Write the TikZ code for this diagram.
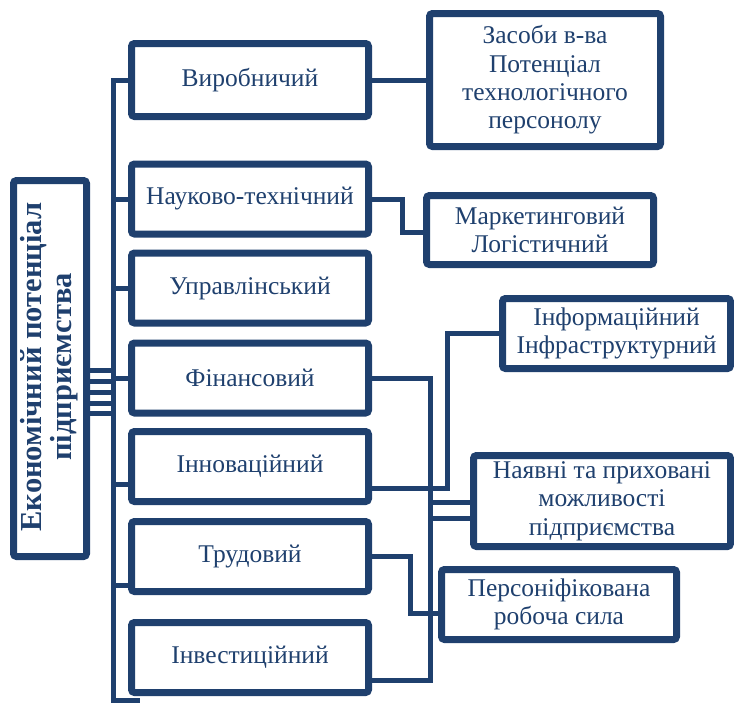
\documentclass[tikz,border=0pt]{standalone}
\usepackage{fontspec}
\setmainfont{Liberation Serif}
\usetikzlibrary{shadows}
\definecolor{navy}{RGB}{31,64,110}
\begin{document}
\begin{tikzpicture}[x=1pt,y=-1pt,
  box/.style={draw=navy, line width=7pt, rounded corners=3pt, fill=white, text=navy,
    font=\fontsize{25.5}{28.3}\selectfont, align=center, inner sep=0pt,
    drop shadow={opacity=0.25, shadow xshift=2pt, shadow yshift=-3pt}},
  mid/.style={box, minimum width=237pt, minimum height=70pt},
  link/.style={draw=navy, line width=5pt}]
\useasboundingbox (0,0) rectangle (734,702);
% main box
\node[box, minimum width=73pt, minimum height=376pt] (main) at (50,368.5) {};
\node[text=navy, font=\bfseries\fontsize{30.5}{30}\selectfont, rotate=90, align=center] (maintext) at (49,367) {Економічний потенціал\\підприємства};
% middle column
\node[box, minimum width=237pt, minimum height=73pt] (vir) at (250,80) {Виробничий};
\node[mid] (nt) at (250,199) {Науково-технічний};
\node[mid] (up) at (250,288) {Управлінський};
\node[mid] (fin) at (250,378) {Фінансовий};
\node[mid] (inn) at (250,466.5) {Інноваційний};
\node[mid] (trud) at (250,556.5) {Трудовий};
\node[mid] (inv) at (250,657.5) {Інвестиційний};
% right column
\node[box, minimum width=231pt, minimum height=133pt] (zas) at (545,80) {Засоби в-ва\\Потенціал\\технологічного\\персонолу};
\node[box, minimum width=227pt, minimum height=69pt] (mk) at (540,230) {Маркетинговий\\Логістичний};
\node[box, minimum width=228pt, minimum height=70pt] (inf) at (616.5,333.5) {Інформаційний\\Інфраструктурний};
\node[box, minimum width=257pt, minimum height=91pt] (nav) at (602,501) {Наявні та приховані\\можливості\\підприємства};
\node[box, minimum width=235pt, minimum height=70pt] (pers) at (559,604.5) {Персоніфікована\\робоча сила};
% bus coordinates
\coordinate (bt) at (113,80);
\coordinate (bb) at (113,700);
\coordinate (be) at (140,700);
\coordinate (m1) at (113,370);
\coordinate (m2) at (113,381);
\coordinate (m3) at (113,392);
\coordinate (m4) at (113,403);
\coordinate (m5) at (113,413);
\coordinate (bn) at (113,199);
\coordinate (bu) at (113,288);
\coordinate (bf) at (113,378);
\coordinate (bi) at (113,484);
\coordinate (btr) at (113,585);
% left bus
\draw[link] (vir.west) -- (bt) -- (bb) -- (be);
\foreach \c in {m1,m2,m3,m4,m5} \draw[link] (main.east |- \c) -- (\c);
\draw[link] (bn) -- (nt.west |- bn);
\draw[link] (bu) -- (up.west |- bu);
\draw[link] (bf) -- (fin.west |- bf);
\draw[link] (bi) -- (inn.west |- bi);
\draw[link] (btr) -- (trud.west |- btr);
% right connectors
\draw[link] (vir.east) -- (zas.west |- vir.east);
\coordinate (nx) at (402,232);
\draw[link] (nt.east) -| (nx) -- (mk.west |- nx);
\coordinate (vx) at (430,680);
\draw[link] (fin.east) -| (vx) -- (inv.east |- vx);
\coordinate (ix) at (447,488);
\draw[link] (inn.east |- ix) -- (ix) |- (inf.west);
\coordinate (n1) at (430,502);
\coordinate (n2) at (430,518);
\draw[link] (n1) -- (nav.west |- n1);
\draw[link] (n2) -- (nav.west |- n2);
\coordinate (ty) at (410,613);
\draw[link] (trud.east) -| (ty) -- (pers.west |- ty);
\end{tikzpicture}
\end{document}
